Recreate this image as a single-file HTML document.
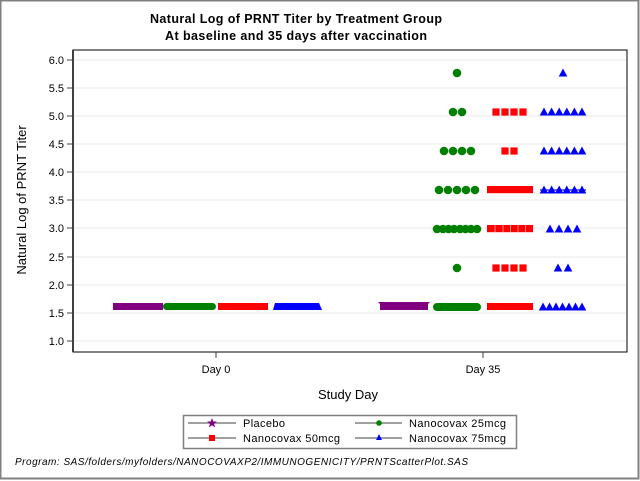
<!DOCTYPE html>
<html><head><style>
body{margin:0;background:#fff}
svg{display:block;font-family:"Liberation Sans",Arial,sans-serif}
</style></head><body>
<svg width="640" height="481" viewBox="0 0 640 481" xmlns="http://www.w3.org/2000/svg">
<defs>
<polygon id="st" points="0,-5 1.3,-1.5 5,-1.5 2,0.7 3.1,4.5 0,2.2 -3.1,4.5 -2,0.7 -5,-1.5 -1.3,-1.5" fill="#800080"/>
<circle id="ci" r="4.3" fill="#008000"/>
<rect id="sq" x="-3.6" y="-3.6" width="7.2" height="7.2" fill="#ff0000"/>
<polygon id="tr" points="0,-4.5 4.3,3.5 -4.3,3.5" fill="#0000ff"/>
</defs>
<rect x="0.5" y="0.5" width="638" height="478" fill="#fff" stroke="#808080" stroke-width="2"/>
<text x="296" y="23" font-size="12.5" font-weight="bold" text-anchor="middle" fill="#000" textLength="292">Natural Log of PRNT Titer by Treatment Group</text>
<text x="296" y="40" font-size="12.5" font-weight="bold" text-anchor="middle" fill="#000" textLength="262">At baseline and 35 days after vaccination</text>
<rect x="73" y="50" width="554" height="302" fill="#fff" stroke="#000" stroke-width="1"/>
<g stroke="#e8e8e8" stroke-width="1">
<line x1="74" x2="626" y1="60" y2="60"/><line x1="74" x2="626" y1="88" y2="88"/>
<line x1="74" x2="626" y1="116" y2="116"/><line x1="74" x2="626" y1="144" y2="144"/>
<line x1="74" x2="626" y1="172" y2="172"/><line x1="74" x2="626" y1="200" y2="200"/>
<line x1="74" x2="626" y1="228" y2="228"/><line x1="74" x2="626" y1="257" y2="257"/>
<line x1="74" x2="626" y1="285" y2="285"/><line x1="74" x2="626" y1="313" y2="313"/>
<line x1="74" x2="626" y1="341" y2="341"/>
</g>
<line x1="73" y1="50" x2="73" y2="352" stroke="#404040" stroke-width="2"/>
<g stroke="#404040" stroke-width="1">
<line x1="67" x2="73" y1="60" y2="60"/><line x1="67" x2="73" y1="88" y2="88"/>
<line x1="67" x2="73" y1="116" y2="116"/><line x1="67" x2="73" y1="144" y2="144"/>
<line x1="67" x2="73" y1="172" y2="172"/><line x1="67" x2="73" y1="200" y2="200"/>
<line x1="67" x2="73" y1="228" y2="228"/><line x1="67" x2="73" y1="257" y2="257"/>
<line x1="67" x2="73" y1="285" y2="285"/><line x1="67" x2="73" y1="313" y2="313"/>
<line x1="67" x2="73" y1="341" y2="341"/>
<line x1="216" x2="216" y1="352" y2="358"/><line x1="483" x2="483" y1="352" y2="358"/>
</g>
<g font-size="11" text-anchor="end" fill="#000">
<text x="64" y="64">6.0</text><text x="64" y="92">5.5</text><text x="64" y="120">5.0</text>
<text x="64" y="148">4.5</text><text x="64" y="176">4.0</text><text x="64" y="204">3.5</text>
<text x="64" y="232">3.0</text><text x="64" y="261">2.5</text><text x="64" y="289">2.0</text>
<text x="64" y="317">1.5</text><text x="64" y="345">1.0</text>
</g>
<text x="216" y="373" font-size="11" text-anchor="middle">Day 0</text>
<text x="483" y="373" font-size="11" text-anchor="middle">Day 35</text>
<text x="348" y="399" font-size="13" text-anchor="middle">Study Day</text>
<text transform="translate(26,200) rotate(-90)" font-size="13" text-anchor="middle">Natural Log of PRNT Titer</text>

<rect x="113" y="303" width="50" height="7" fill="#800080"/>
<rect x="163" y="303" width="53" height="7" rx="3.5" fill="#008000"/>
<rect x="218" y="303" width="50" height="7" fill="#ff0000"/>
<polygon points="273,310 275,303 319,303 322,310" fill="#0000ff"/>
<rect x="380" y="303" width="48" height="7" fill="#800080"/>
<polygon points="380,304 378,302 430,302 428,304" fill="#800080"/>
<rect x="433" y="303" width="48" height="8" rx="4" fill="#008000"/>
<rect x="487" y="303" width="46" height="7" fill="#ff0000"/>
<g>
<use href="#tr" x="543" y="307"/><use href="#tr" x="549.5" y="307"/><use href="#tr" x="556" y="307"/><use href="#tr" x="562.5" y="307"/><use href="#tr" x="569" y="307"/><use href="#tr" x="575.5" y="307"/><use href="#tr" x="582" y="307"/>
</g>
<use href="#ci" x="457" y="73"/>
<use href="#ci" x="453" y="112"/><use href="#ci" x="462" y="112"/>
<use href="#ci" x="444" y="151"/><use href="#ci" x="453" y="151"/><use href="#ci" x="462" y="151"/><use href="#ci" x="471" y="151"/>
<use href="#ci" x="439" y="190"/><use href="#ci" x="448" y="190"/><use href="#ci" x="457" y="190"/><use href="#ci" x="466" y="190"/><use href="#ci" x="475" y="190"/>
<use href="#ci" x="437" y="229"/><use href="#ci" x="443" y="229"/><use href="#ci" x="448.5" y="229"/><use href="#ci" x="454" y="229"/><use href="#ci" x="460" y="229"/><use href="#ci" x="465.5" y="229"/><use href="#ci" x="471" y="229"/><use href="#ci" x="477" y="229"/>
<use href="#ci" x="457" y="268"/>
<use href="#sq" x="496" y="112"/><use href="#sq" x="505" y="112"/><use href="#sq" x="514" y="112"/><use href="#sq" x="523" y="112"/>
<use href="#sq" x="505" y="151"/><use href="#sq" x="514" y="151"/>
<rect x="487" y="186" width="46" height="7.2" fill="#ff0000"/>
<rect x="487" y="225" width="46" height="7.2" fill="#ff0000"/>
<g stroke="#ffb0b0" stroke-width="0.8"><line x1="495" x2="495" y1="225" y2="232"/><line x1="503" x2="503" y1="225" y2="232"/><line x1="510.5" x2="510.5" y1="225" y2="232"/><line x1="518" x2="518" y1="225" y2="232"/><line x1="525.5" x2="525.5" y1="225" y2="232"/></g>
<use href="#sq" x="496" y="268"/><use href="#sq" x="505" y="268"/><use href="#sq" x="514" y="268"/><use href="#sq" x="523" y="268"/>
<use href="#tr" x="563" y="73"/>
<use href="#tr" x="544" y="112"/><use href="#tr" x="551.6" y="112"/><use href="#tr" x="559.2" y="112"/><use href="#tr" x="566.8" y="112"/><use href="#tr" x="574.4" y="112"/><use href="#tr" x="582" y="112"/>
<use href="#tr" x="544" y="151"/><use href="#tr" x="551.6" y="151"/><use href="#tr" x="559.2" y="151"/><use href="#tr" x="566.8" y="151"/><use href="#tr" x="574.4" y="151"/><use href="#tr" x="582" y="151"/>
<rect x="540" y="189" width="46" height="2" fill="#6a6aff"/>
<use href="#tr" x="544" y="190"/><use href="#tr" x="551.6" y="190"/><use href="#tr" x="559.2" y="190"/><use href="#tr" x="566.8" y="190"/><use href="#tr" x="574.4" y="190"/><use href="#tr" x="582" y="190"/>
<use href="#tr" x="550" y="229"/><use href="#tr" x="559" y="229"/><use href="#tr" x="568" y="229"/><use href="#tr" x="577" y="229"/>
<use href="#tr" x="558" y="268"/><use href="#tr" x="568" y="268"/>

<rect x="183.5" y="415.5" width="333" height="33" fill="#fff" stroke="#808080" stroke-width="1.5"/>
<g stroke="#808080" stroke-width="1.5">
<line x1="188" x2="236" y1="423" y2="423"/><line x1="188" x2="236" y1="438" y2="438"/>
<line x1="355" x2="402" y1="423" y2="423"/><line x1="355" x2="402" y1="438" y2="438"/>
</g>
<use href="#st" x="212" y="423"/>
<circle cx="379" cy="423" r="2.8" fill="#008000"/>
<rect x="209" y="435" width="6" height="6" fill="#ff0000"/>
<polygon points="379,434 382,440 376,440" fill="#0000ff"/>
<g font-size="11" fill="#000">
<text x="243" y="427" textLength="42">Placebo</text>
<text x="409" y="427" textLength="97">Nanocovax 25mcg</text>
<text x="243" y="442" textLength="97">Nanocovax 50mcg</text>
<text x="409" y="442" textLength="97">Nanocovax 75mcg</text>
</g>
<text x="15" y="465" font-size="10" font-style="italic" fill="#000" textLength="453">Program: SAS/folders/myfolders/NANOCOVAXP2/IMMUNOGENICITY/PRNTScatterPlot.SAS</text>
</svg>
</body></html>
